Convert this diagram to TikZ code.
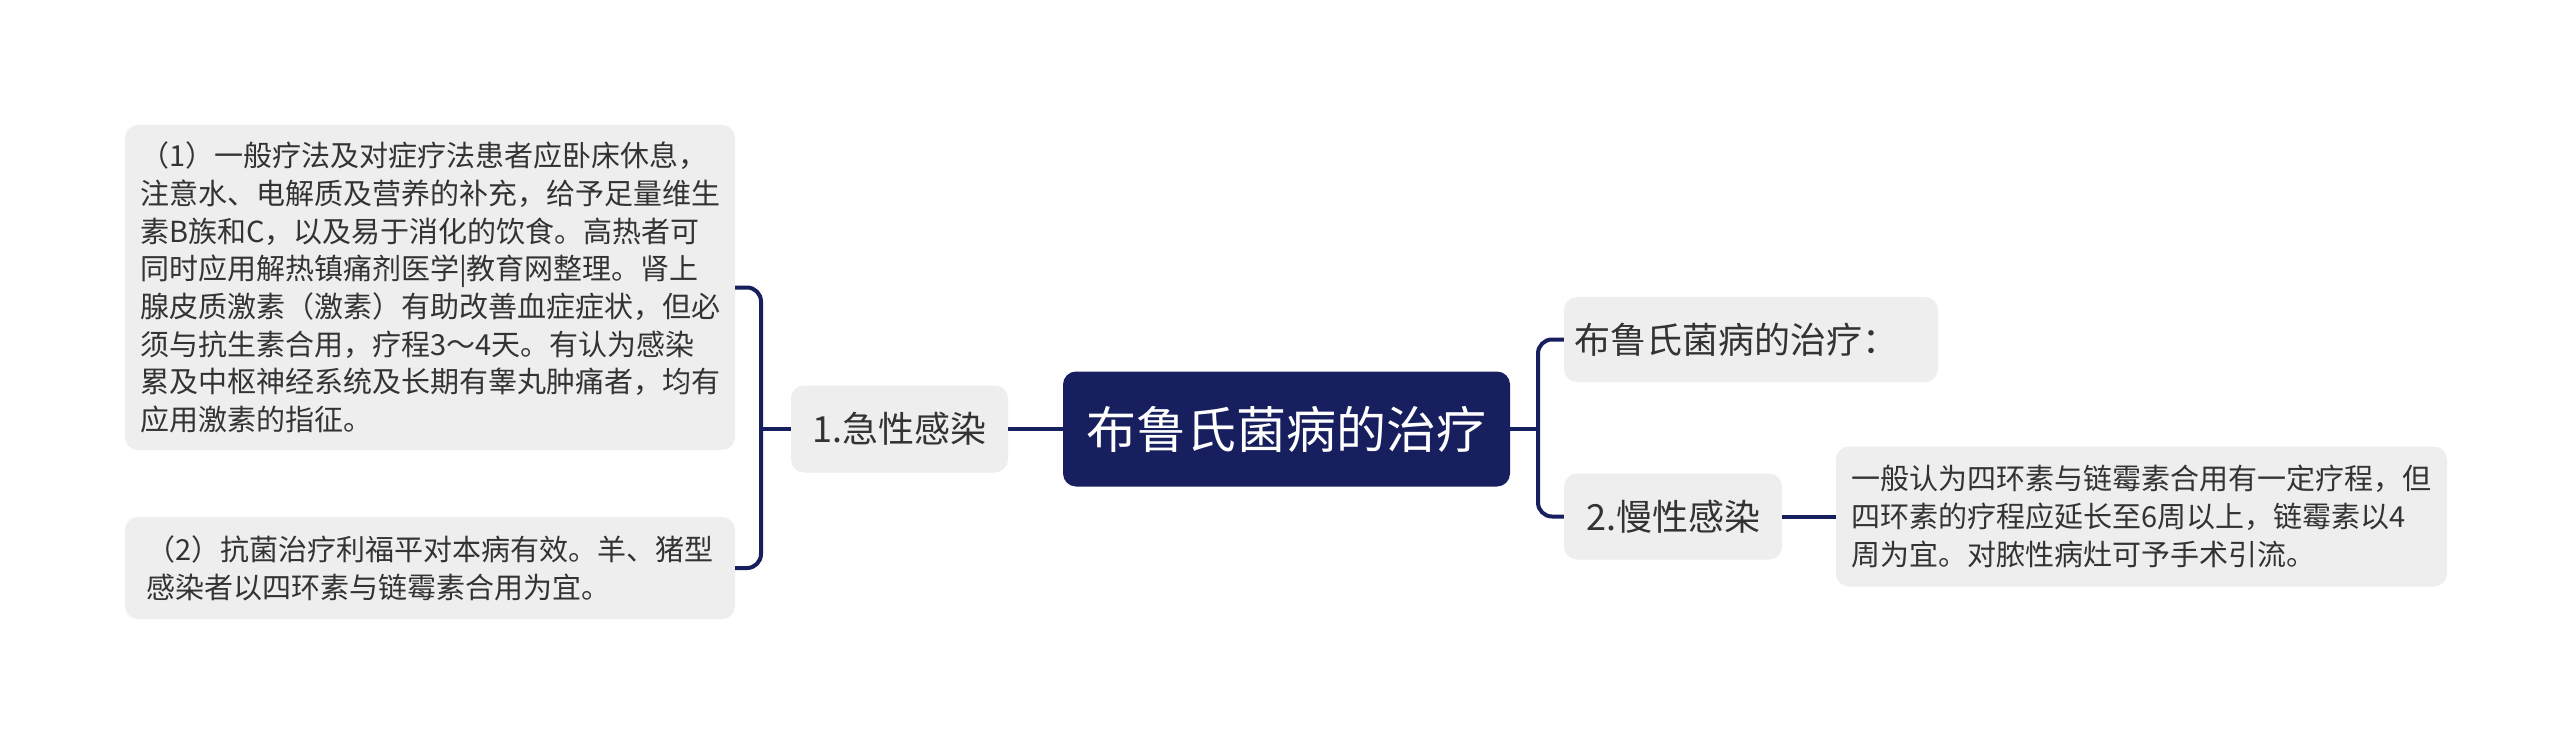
\documentclass[tikz,border=0pt]{standalone}
\usepackage{fontspec}
\setmainfont{Noto Sans CJK SC}
\definecolor{navy}{RGB}{24,31,94}
\definecolor{boxgray}{RGB}{238,238,238}
\definecolor{txt}{RGB}{51,51,51}
\begin{document}
\begin{tikzpicture}[x=1pt,y=-1pt,
 box/.style={fill=boxgray, rounded corners=13pt, inner sep=0pt, text=txt, align=left, anchor=center},
 rootbox/.style={fill=navy, rounded corners=13pt, inner sep=0pt, text=white, align=center, anchor=center, font=\fontsize{50}{60}\selectfont},
 conn/.style={draw=navy, line width=4pt, rounded corners=14pt},
 body/.style={font=\fontsize{29}{37.7}\selectfont},
 mid/.style={font=\fontsize{36}{44}\selectfont}]
\useasboundingbox (0,0) rectangle (2560,741);
\fill[white] (0,0) rectangle (2560,741);
\node[box, body, minimum width=610pt, minimum height=325pt] (L1) at (430,287.5) {（1）一般疗法及对症疗法患者应卧床休息，\\注意水、电解质及营养的补充，给予足量维生\\素B族和C，以及易于消化的饮食。高热者可\\同时应用解热镇痛剂医学|教育网整理。肾上\\腺皮质激素（激素）有助改善血症症状，但必\\须与抗生素合用，疗程3～4天。有认为感染\\累及中枢神经系统及长期有睾丸肿痛者，均有\\应用激素的指征。};
\node[box, body, minimum width=610pt, minimum height=102pt] (L2) at (430,568) {（2）抗菌治疗利福平对本病有效。羊、猪型\\感染者以四环素与链霉素合用为宜。};
\node[box, mid, minimum width=217pt, minimum height=87pt, align=center] (acute) at (899.5,429) {1.急性感染};
\node[rootbox, minimum width=447pt, minimum height=115pt] (root) at (1286.5,429) {布鲁氏菌病的治疗};
\node[box, mid, minimum width=374pt, minimum height=85pt] (R1) at (1751,339.5) {\hspace*{0pt}布鲁氏菌病的治疗：\hspace*{30pt}};
\node[box, mid, minimum width=218pt, minimum height=86pt, align=center] (R2) at (1673,516.5) {2.慢性感染};
\node[box, body, minimum width=611pt, minimum height=140pt] (leaf) at (2141.5,516.5) {一般认为四环素与链霉素合用有一定疗程，但\\四环素的疗程应延长至6周以上，链霉素以4\\周为宜。对脓性病灶可予手术引流。};
\coordinate (lj) at (761,429);
\coordinate (rj) at (1538,429);
\draw[conn] (root.west) -- (acute.east);
\draw[conn] (acute.west) -- (lj);
\draw[conn] (L1.east) -| (lj);
\draw[conn] (L2.east) -| (lj);
\draw[conn] (root.east) -- (rj);
\draw[conn] (R1.west) -| (rj);
\draw[conn] (R2.west) -| (rj);
\draw[conn] (R2.east) -- (leaf.west);
\end{tikzpicture}
\end{document}
